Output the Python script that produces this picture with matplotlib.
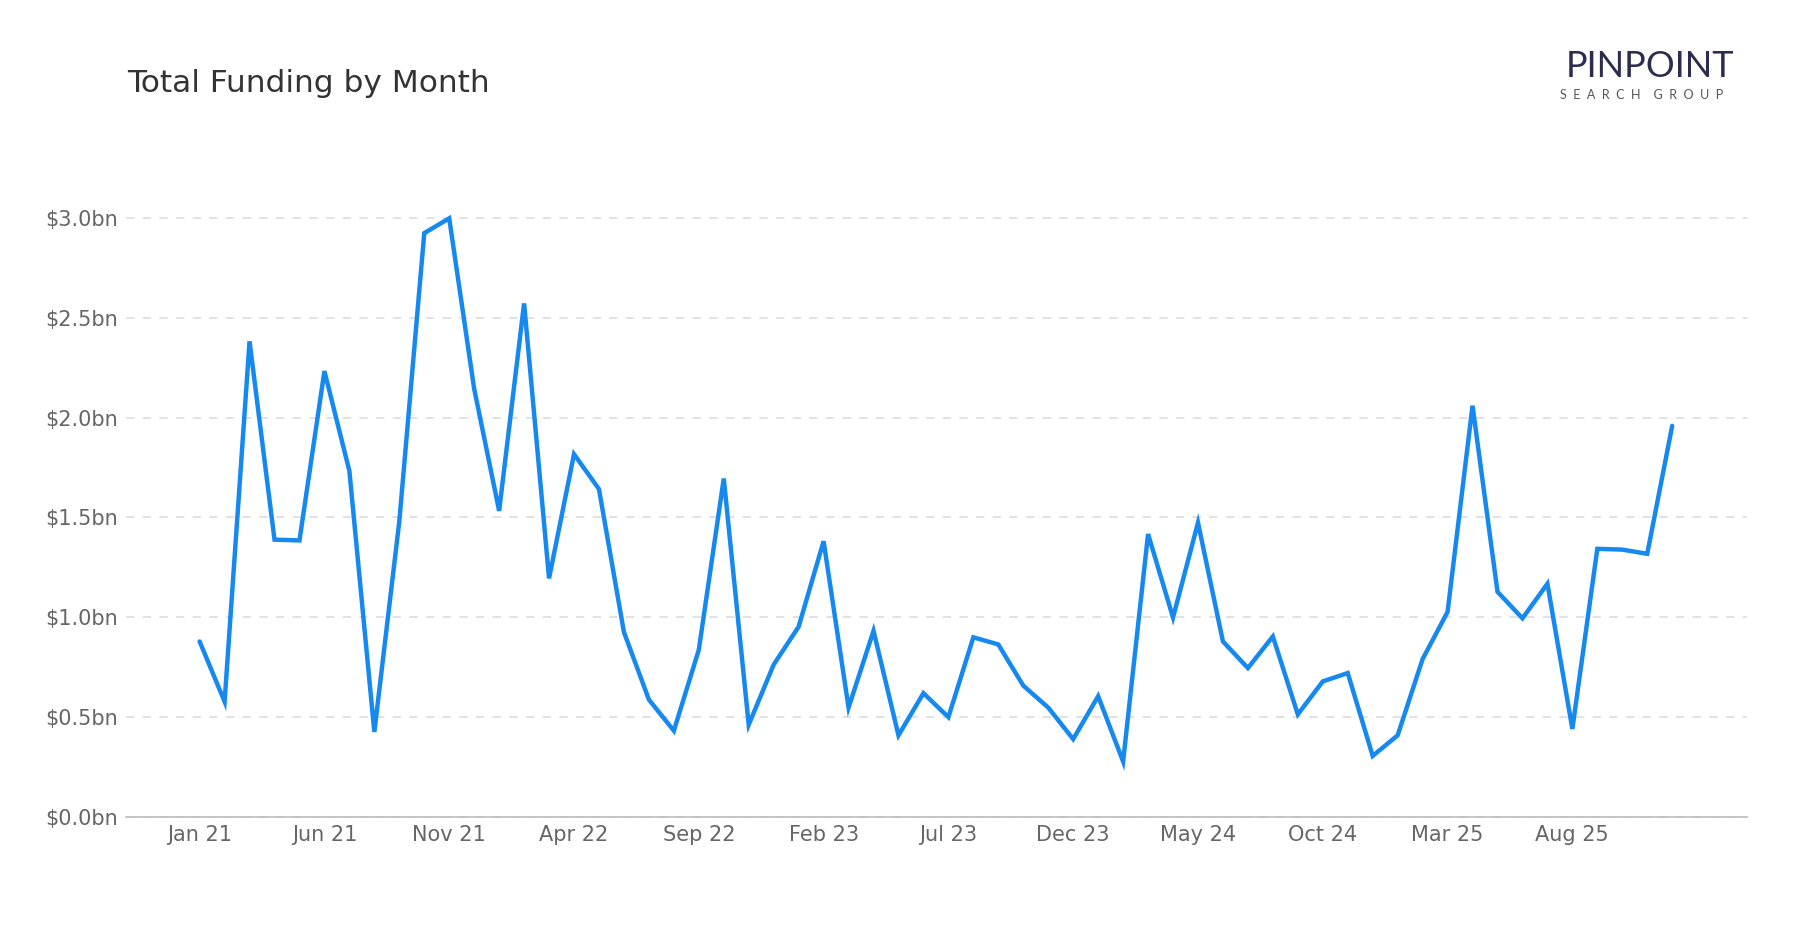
import matplotlib
matplotlib.use("Agg")
import matplotlib.pyplot as plt
from matplotlib.ticker import FuncFormatter


# =========================
# Data (USD bn, Jan 2021 - Dec 2025)
# =========================

funding = [
    0.879, 0.578, 2.382, 1.389, 1.385, 2.233, 1.733, 0.426, 1.480, 2.924, 2.998, 2.144,
    1.533, 2.572, 1.195, 1.817, 1.642, 0.926, 0.588, 0.432, 0.837, 1.695, 0.462, 0.763,
    0.953, 1.381, 0.548, 0.932, 0.409, 0.620, 0.500, 0.900, 0.864, 0.658, 0.548, 0.390,
    0.605, 0.278, 1.417, 0.999, 1.474, 0.879, 0.746, 0.904, 0.514, 0.679, 0.721, 0.306,
    0.409, 0.791, 1.027, 2.060, 1.128, 0.995, 1.168, 0.441, 1.343, 1.339, 1.318, 1.959,
]

tick_idx = [0, 5, 10, 15, 20, 25, 30, 35, 40, 45, 50, 55]
tick_labels = [
    "Jan 21", "Jun 21", "Nov 21", "Apr 22", "Sep 22", "Feb 23",
    "Jul 23", "Dec 23", "May 24", "Oct 24", "Mar 25", "Aug 25",
]
y_ticks = [0.0, 0.5, 1.0, 1.5, 2.0, 2.5, 3.0]


# =========================
# Figure
# =========================

fig = plt.figure(figsize=(18, 9.3), dpi=100)
ax = fig.add_axes([0.07, 0.1215, 0.9006, 0.6871])

months = list(range(len(funding)))
ax.plot(months, funding, color="#1589F0", linewidth=3.2,
        solid_joinstyle="miter", solid_capstyle="round", zorder=3)

ax.set_xlim(-2.95, 62.0)
ax.set_ylim(0, 3.2)

ax.set_xticks(tick_idx)
ax.set_xticklabels(tick_labels)
ax.set_yticks(y_ticks)
ax.yaxis.set_major_formatter(FuncFormatter(lambda v, p: f"${v:.1f}bn"))

ax.tick_params(axis="both", length=0, labelsize=15, labelcolor="#666666")
ax.tick_params(axis="x", pad=6)
ax.tick_params(axis="y", pad=6)

ax.grid(axis="y", color="#dddddd", linestyle=(0, (5, 5)), linewidth=1.2)
ax.set_axisbelow(True)

for side in ["top", "right", "left"]:
    ax.spines[side].set_visible(False)
ax.spines["bottom"].set_color("#bbbbbb")
ax.spines["bottom"].set_linewidth(1.2)

# Title
fig.text(0.0706, 0.910, "Total Funding by Month", fontsize=22.5,
         color="#333333", va="center", ha="left")

# Logo (as text)
fig.text(0.9635, 0.929, "PINPOINT", fontsize=26, color="#2b2d4f",
         family="Lato", ha="right", va="center")
fig.text(0.9575, 0.8975, "S  E  A  R  C  H    G  R  O  U  P", fontsize=9,
         color="#555555", family="Lato", ha="right", va="center")

fig.savefig("out.png", dpi=100, facecolor="white")
